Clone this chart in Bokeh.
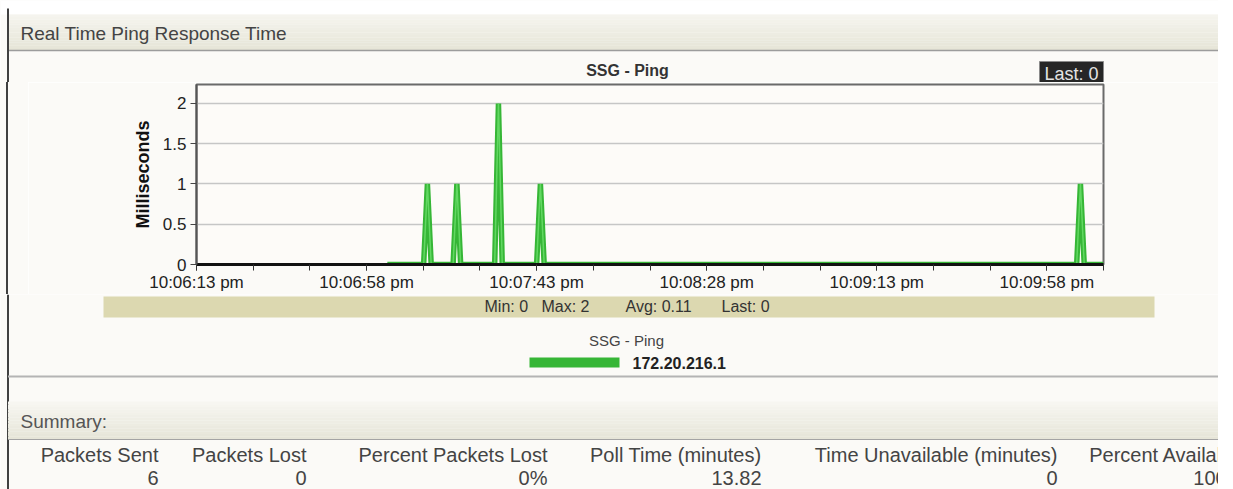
import numpy as np
from bokeh.plotting import figure
from bokeh.models import Range1d, FixedTicker, Div
from bokeh.layouts import column, row
from bokeh.core.properties import value
from bokeh.embed import file_html
from bokeh.resources import INLINE

# ---------------- data ----------------
panel_title = "Real Time Ping Response Time"
chart_title = "SSG - Ping"
last_badge = "Last: 0"
y_axis_title = "Milliseconds"

# sample times: seconds after 10:06:13 pm
sample_sec = [50.5, 60.1, 61.1, 62.1, 67.9, 68.9, 69.9, 78.9, 79.9, 80.9,
              90.0, 91.0, 92.0, 232.9, 233.9, 234.9, 240.0]
ping_ms = [0, 0, 1, 0, 0, 1, 0, 0, 2, 0, 0, 1, 0, 0, 1, 0, 0]

x_tick_sec = [0, 45, 90, 135, 180, 225]
x_tick_labels = ["10:06:13 pm", "10:06:58 pm", "10:07:43 pm",
                 "10:08:28 pm", "10:09:13 pm", "10:09:58 pm"]
y_tick_vals = [0, 0.5, 1, 1.5, 2]
y_tick_labels = ["0", "0.5", "1", "1.5", "2"]

stat_labels = ["Min: 0", "Max: 2", "Avg: 0.11", "Last: 0"]
legend_title = "SSG - Ping"
legend_item = "172.20.216.1"
summary_title = "Summary:"
table_headers = ["Packets Sent", "Packets Lost", "Percent Packets Lost",
                 "Poll Time (minutes)", "Time Unavailable (minutes)", "Percent Available"]
table_values = ["6", "0", "0%", "13.82", "0", "100%"]

# ---------------- style ----------------
BG = "#fbfaf7"
GREEN = "#36b636"
GREEN_HI = "#62d862"
FONT = value("Liberation Sans")
TXT = "#444444"
W = 1218
LX = 7.5   # left panel border


def decor(w, h):
    f = figure(width=w, height=h, x_range=Range1d(0, w), y_range=Range1d(h, 0),
               toolbar_location=None, output_backend="svg", tools="",
               x_axis_location=None, y_axis_location=None, min_border=0,
               background_fill_color=BG, border_fill_color=BG, outline_line_color=None)
    f.grid.visible = False
    return f


def left_border(f, y0, y1):
    f.segment(x0=[LX], y0=[y0], x1=[LX], y1=[y1], line_color="#404040", line_width=2)


def gradient_bar(f, top, bottom, c0, c1, n=14):
    edges = np.linspace(top, bottom, n + 1)
    a = np.array([int(c0[i:i + 2], 16) for i in (1, 3, 5)], float)
    b = np.array([int(c1[i:i + 2], 16) for i in (1, 3, 5)], float)
    cols = []
    for k in range(n):
        c = a + (b - a) * (k / (n - 1))
        cols.append("#%02x%02x%02x" % tuple(int(round(v)) for v in c))
    f.quad(left=[LX] * n, right=[W] * n, top=list(edges[:-1]), bottom=list(edges[1:]),
           fill_color=cols, line_color=None)


# ---------------- top strip (page y 0..82) ----------------
HA = 82
top = decor(W, HA)
top.quad(left=[0], right=[W], top=[0], bottom=[14], fill_color="#ffffff", line_color=None)
gradient_bar(top, 14, 50, "#f5f4ee", "#e6e5d7")
top.segment(x0=[LX], y0=[50], x1=[W], y1=[50], line_color="#9c9c9c", line_width=1.5)
left_border(top, 8, HA)
top.text(x=[20], y=[33], text=[panel_title], text_font=FONT, text_font_size="19px",
         text_color=TXT, text_baseline="middle", text_align="left")
top.text(x=[627], y=[70], text=[chart_title], text_font=FONT, text_font_size="16px",
         text_font_style="bold", text_color="#333333", text_baseline="middle", text_align="center")
top.quad(left=[1039], right=[1103], top=[61], bottom=[84], fill_color="#262626",
         line_color="#8a8a8a", line_width=1)
top.text(x=[1071], y=[73], text=[last_badge], text_font=FONT, text_font_size="18px",
         text_color="#e4e4e4", text_baseline="middle", text_align="center")

# ---------------- chart (page y 82..294) ----------------
HC = 212
SW = 28
strip = Div(text="", width=SW, height=HC, margin=(0, 0, 0, 0),
            styles={"padding": "0px", "margin": "0px",
                    "background": "linear-gradient(to right, %s 0px, %s 6.5px, #404040 6.5px, "
                                  "#404040 8.5px, %s 8.5px, %s 100%%)" % (BG, BG, BG, BG)})

chart = figure(width=W - SW, height=HC, x_range=Range1d(0, 240), y_range=Range1d(0, 2.236),
               min_border_left=168, min_border_right=115, min_border_top=2, min_border_bottom=30,
               toolbar_location=None, output_backend="svg", tools="",
               background_fill_color="#fdfbf8", border_fill_color=BG,
               outline_line_color="#6a6a6a", outline_line_width=2)
chart.line(x=sample_sec, y=ping_ms, line_color=GREEN, line_width=5.5)
chart.line(x=sample_sec, y=ping_ms, line_color=GREEN_HI, line_width=1.5)

xa = chart.xaxis[0]
xa.ticker = FixedTicker(ticks=x_tick_sec, minor_ticks=list(range(0, 241, 15)))
xa.major_label_overrides = {t: l for t, l in zip(x_tick_sec, x_tick_labels)}
xa.major_label_text_font = "Liberation Sans"
xa.major_label_text_font_size = "17px"
xa.major_label_text_color = "#222222"
xa.major_label_standoff = 2
xa.major_tick_in = 0
xa.major_tick_out = 6
xa.minor_tick_in = 0
xa.minor_tick_out = 6
xa.major_tick_line_color = "#333333"
xa.minor_tick_line_color = "#333333"
xa.axis_line_color = "#111111"
xa.axis_line_width = 3

ya = chart.yaxis[0]
ya.ticker = FixedTicker(ticks=y_tick_vals)
ya.major_label_overrides = {t: l for t, l in zip(y_tick_vals, y_tick_labels)}
ya.major_label_text_font = "Liberation Sans"
ya.major_label_text_font_size = "17px"
ya.major_label_text_color = "#222222"
ya.major_label_standoff = 4
ya.major_tick_in = 0
ya.major_tick_out = 6
ya.minor_tick_line_color = None
ya.major_tick_line_color = "#444444"
ya.axis_line_color = "#555555"
ya.axis_line_width = 2
ya.axis_label = y_axis_title
ya.axis_label_text_font = "Liberation Sans"
ya.axis_label_text_font_size = "18px"
ya.axis_label_text_font_style = "bold"
ya.axis_label_text_color = "#111111"
ya.axis_label_standoff = 7

chart.xgrid.visible = False
chart.ygrid.ticker = FixedTicker(ticks=y_tick_vals)
chart.ygrid.grid_line_color = "#c6c6c6"
chart.ygrid.grid_line_width = 1.5

# ---------------- bottom strip (page y 294..489) ----------------
HB = 195
bot = decor(W, HB)
left_border(bot, 0, HB)
bot.quad(left=[103], right=[1154], top=[2], bottom=[23], fill_color="#dcd8b0", line_color=None)
bot.text(x=[484, 541, 625, 721], y=[12] * 4, text=stat_labels, text_font=FONT,
         text_font_size="16px", text_color="#333333", text_baseline="middle", text_align="left")
bot.text(x=[626], y=[46], text=[legend_title], text_font=FONT, text_font_size="15px",
         text_color=TXT, text_baseline="middle", text_align="center")
bot.quad(left=[529], right=[619], top=[63], bottom=[73], fill_color=GREEN, line_color=None)
bot.text(x=[632], y=[68], text=[legend_item], text_font=FONT, text_font_size="16px",
         text_font_style="bold", text_color="#222222", text_baseline="middle", text_align="left")
bot.segment(x0=[LX], y0=[82], x1=[W], y1=[82], line_color="#b4b4b4", line_width=2)
gradient_bar(bot, 107, 145, "#f7f6f1", "#e6e5d8")
bot.segment(x0=[LX], y0=[145], x1=[W], y1=[145], line_color="#a4a4a4", line_width=1)
bot.text(x=[20], y=[127], text=[summary_title], text_font=FONT, text_font_size="19px",
         text_color="#555555", text_baseline="middle", text_align="left")
col_right = [158, 306, 547, 761, 1057, 1244]
bot.text(x=col_right, y=[160] * 6, text=table_headers, text_font=FONT, text_font_size="20px",
         text_color=TXT, text_baseline="middle", text_align="right")
bot.text(x=col_right, y=[183] * 6, text=table_values, text_font=FONT, text_font_size="20px",
         text_color=TXT, text_baseline="middle", text_align="right")

layout = column(top, row(strip, chart, spacing=0), bot, spacing=0)

open("out.html", "w").write(file_html(layout, INLINE))
